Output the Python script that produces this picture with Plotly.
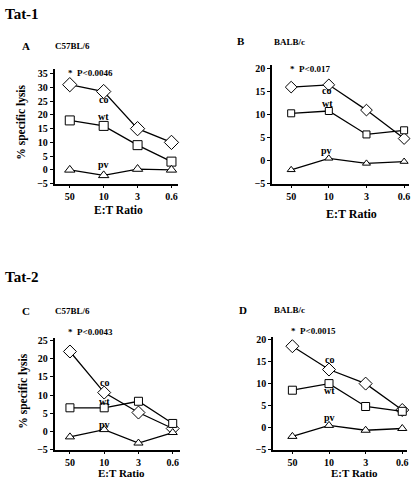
import plotly.graph_objects as go

W, H = 416, 487

ratios = ["50", "10", "3", "0.6"]

# Panel A: Tat-1, C57BL/6
a_co = [31, 28.5, 15, 10]
a_wt = [18, 16, 9, 3]
a_pv = [0, -2, 0.3, 0]
# Panel B: Tat-1, BALB/c
b_co = [16, 16.5, 11, 4.8]
b_wt = [10.3, 10.8, 5.7, 6.6]
b_pv = [-2, 0.5, -0.6, -0.2]
# Panel C: Tat-2, C57BL/6
c_co = [22, 10.7, 5.2, 0.8]
c_wt = [6.5, 6.5, 8.3, 2.2]
c_pv = [-1.5, 0.5, -3.2, -0.3]
# Panel D: Tat-2, BALB/c
d_co = [18.5, 13.2, 10, 4]
d_wt = [8.5, 10, 4.8, 3.7]
d_pv = [-2, 0.5, -0.6, -0.2]

FONT = "Liberation Serif, Times New Roman, serif"

def px(x, y):
    return x / W, 1 - y / H

panels = [
    dict(key="", co=a_co, wt=a_wt, pv=a_pv, xd=(55, 178), yd=(184, 67), yr=(-5, 36.8), dt=5, xr=(-0.44, 3.18), ms=9),
    dict(key="2", co=b_co, wt=b_wt, pv=b_pv, xd=(273, 410), yd=(184, 63), yr=(-5, 20.85), dt=5, xr=(-0.5, 3.13), ms=7),
    dict(key="3", co=c_co, wt=c_wt, pv=c_pv, xd=(55, 180), yd=(455, 341), yr=(-5, 25.8), dt=5, xr=(-0.44, 3.2), ms=8),
    dict(key="4", co=d_co, wt=d_wt, pv=d_pv, xd=(274, 408), yd=(455, 340), yr=(-5, 20.66), dt=5, xr=(-0.52, 3.13), ms=8),
]

fig = go.Figure()
layout = dict(
    width=W, height=H, margin=dict(l=0, r=0, t=0, b=0),
    paper_bgcolor="white", plot_bgcolor="white", showlegend=False,
    font=dict(family=FONT, color="black"),
)

xs = [0, 1, 2, 3]
for p in panels:
    k = p["key"]
    xa, ya = "x" + k, "y" + k
    for name, sym in (("co", "diamond"), ("wt", "square"), ("pv", "triangle-up")):
        sz = p["ms"] + (2 if sym == "diamond" else 0)
        fig.add_trace(go.Scatter(
            x=xs, y=p[name], mode="lines+markers", xaxis=xa, yaxis=ya,
            line=dict(color="black", width=1.3),
            marker=dict(symbol=sym, size=sz, color="white", line=dict(color="black", width=1)),
            cliponaxis=False,
        ))
    x0, x1 = p["xd"]
    yb, yt = p["yd"]
    tf = dict(family=FONT, size=10, color="black", weight="bold")
    layout["xaxis" + k] = dict(
        domain=[x0 / W, x1 / W], range=list(p["xr"]), anchor=ya,
        tickvals=xs, ticktext=ratios, showgrid=False, zeroline=False,
        showline=True, linecolor="black", linewidth=2,
        ticks="outside", ticklen=2, tickcolor="black", tickfont=tf,
    )
    layout["yaxis" + k] = dict(
        domain=[1 - yb / H, 1 - yt / H], range=list(p["yr"]), anchor=xa,
        tickmode="linear", tick0=-5, dtick=p["dt"], showgrid=False, zeroline=False,
        showline=True, linecolor="black", linewidth=2,
        ticks="outside", ticklen=3, tickcolor="black", tickfont=tf,
    )

fig.update_layout(**layout)

ann = []
def text(x, y, s, size, xanchor="left", angle=0, yanchor="middle"):
    X, Y = px(x, y)
    ann.append(dict(x=X, y=Y, xref="paper", yref="paper", text=s, showarrow=False,
                    xanchor=xanchor, yanchor=yanchor, textangle=angle,
                    font=dict(family=FONT, size=size, color="black", weight="bold")))

text(3, 11, "Tat-1", 15)
text(3, 279, "Tat-2", 15)
text(20, 44, "A", 11)
text(53, 44, "C57BL/6", 9)
text(236, 39, "B", 11)
text(273, 40, "BALB/c", 9)
text(20, 314, "C", 11)
text(53, 314, "C57BL/6", 9)
text(238, 313, "D", 11)
text(273, 313, "BALB/c", 9)

text(66, 71, "*  P<0.0046", 9)
text(289, 67, "*  P<0.017", 9)
text(66, 335, "*  P<0.0043", 9)
text(290, 334, "*  P<0.0015", 9)

text(119, 211, "E:T Ratio", 11.5, "center")
text(352, 215, "E:T Ratio", 12, "center")
text(122, 487, "E:T Ratio", 11, "center", yanchor="bottom")
text(355, 487, "E:T Ratio", 11, "center", yanchor="bottom")

text(22, 121, "% specific lysis", 11.5, "center", -90)
text(24, 395, "% specific lysis", 11.5, "center", -90)

series_labels = [
    ("", [(1, 25.7, "co"), (1, 19.3, "wt"), (1, 1.8, "pv")]),
    ("2", [(0.95, 15.3, "co"), (0.97, 12.5, "wt"), (0.93, 2.3, "pv")]),
    ("3", [(1, 13.5, "co"), (1, 8.1, "wt"), (1, 2.0, "pv")]),
    ("4", [(1, 15.4, "co"), (1, 8.5, "wt"), (1, 2.3, "pv")]),
]
for k, items in series_labels:
    for x, y, s in items:
        ann.append(dict(x=x, y=y, xref="x" + k, yref="y" + k, text=s, showarrow=False,
                        font=dict(family=FONT, size=10, color="black", weight="bold")))

fig.update_layout(annotations=ann)
fig.write_html("out.html", config={"displayModeBar": False},
               post_script="document.body.style.margin='0';document.body.style.overflow='hidden';")
